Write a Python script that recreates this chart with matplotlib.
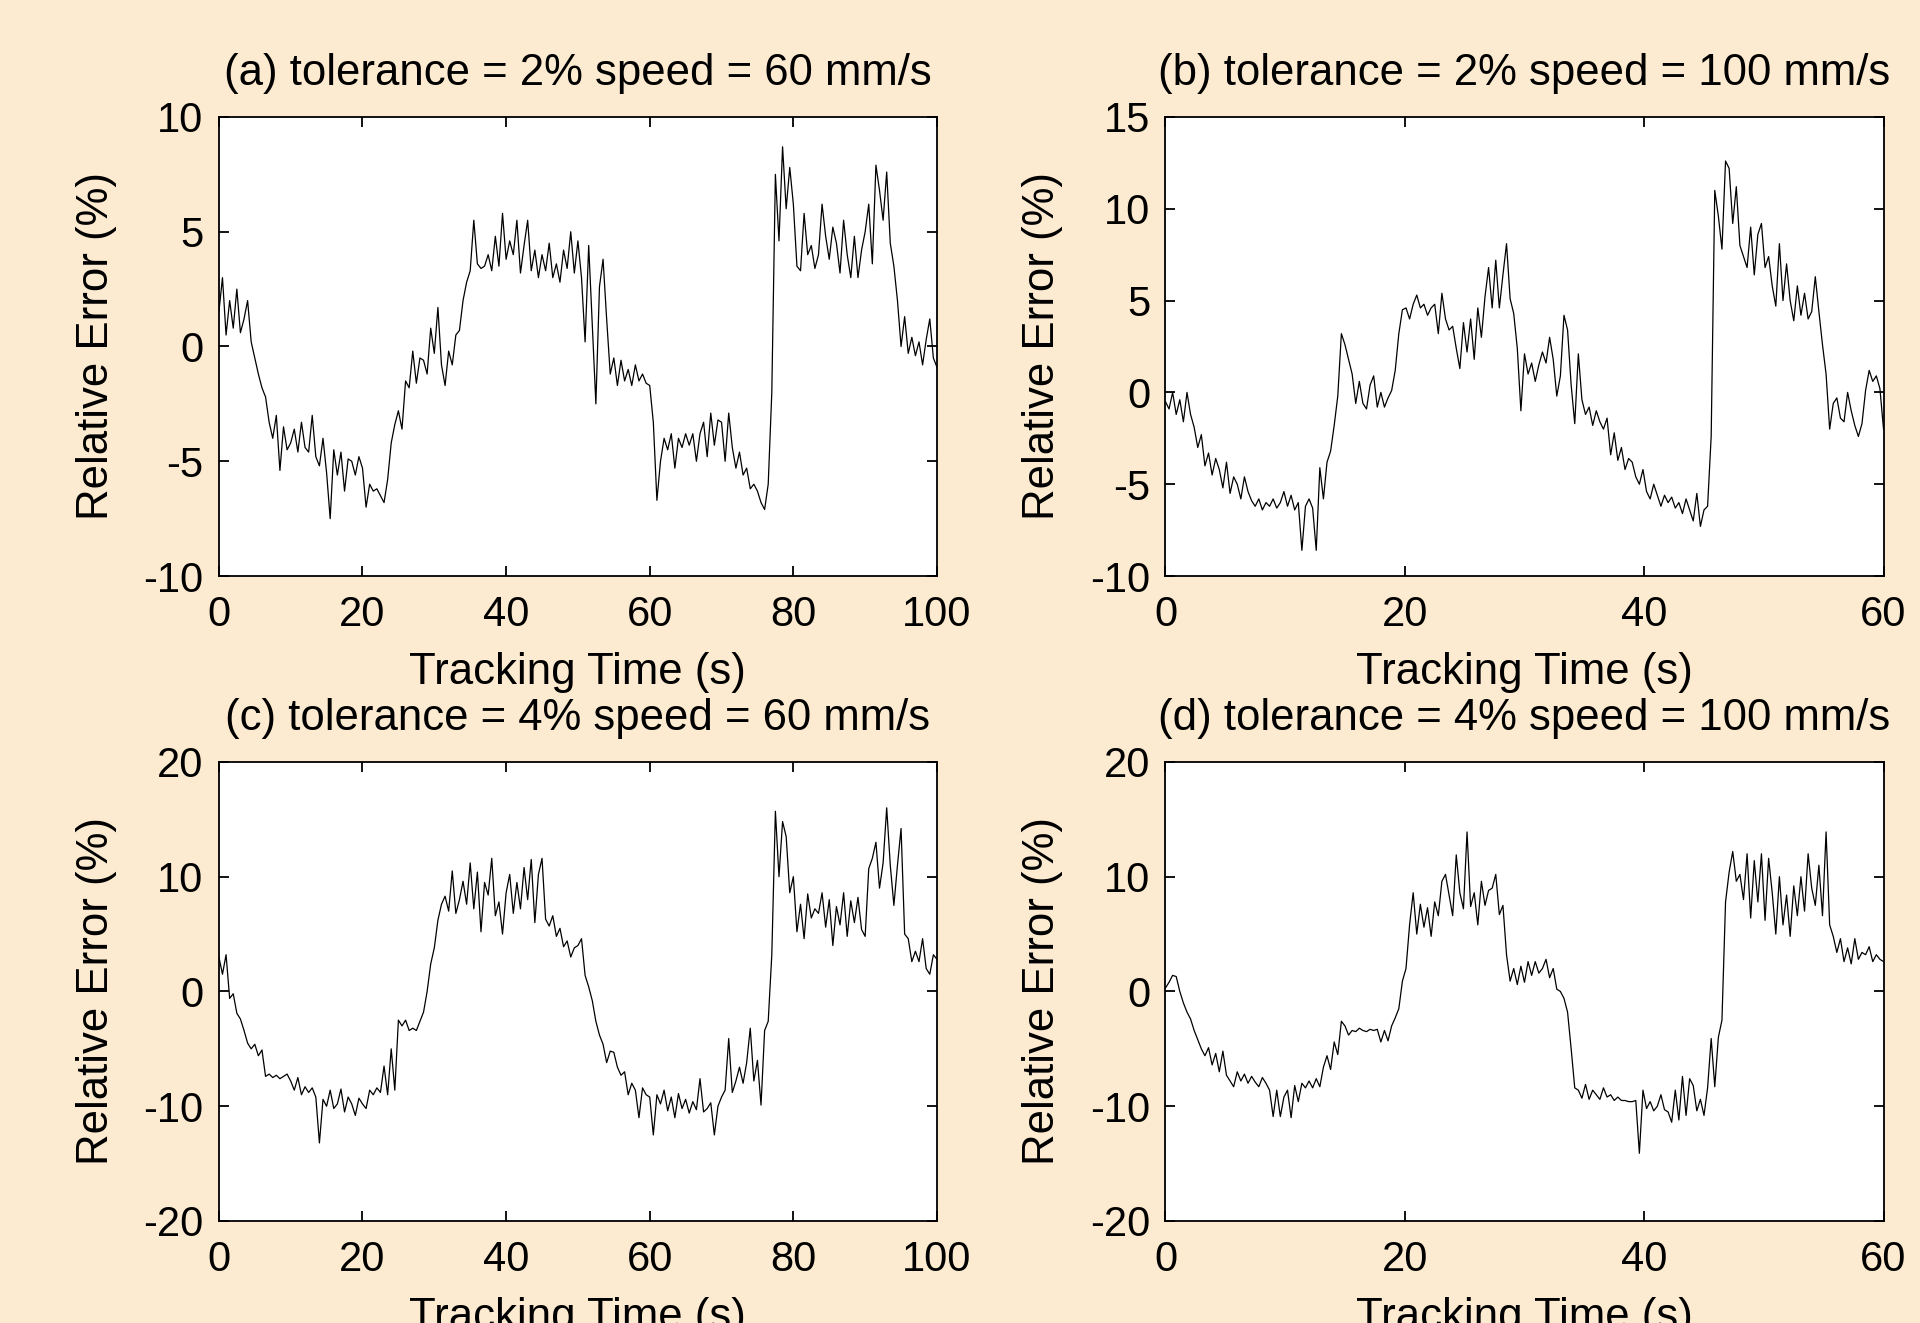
import numpy as np
import matplotlib
matplotlib.use("Agg")
import matplotlib.pyplot as plt

plt.rcParams['font.family'] = ['Liberation Sans', 'DejaVu Sans']
plt.rcParams['axes.unicode_minus'] = False

# ---------------- data ----------------
# panels (a) and (c): 0..100 s, sampled every 0.5 s
time_100 = np.arange(0, 100.0001, 0.5)
# panels (b) and (d): 0..60 s, sampled every 0.3 s
time_60 = np.linspace(0, 60, 201)

err_a = [
    1.5, 3.0, 0.5, 2.0, 0.8, 2.5, 0.6, 1.2, 2.0, 0.2,
    -0.5, -1.2, -1.8, -2.2, -3.3, -4.0, -3.0, -5.4, -3.5, -4.5,
    -4.2, -3.6, -4.6, -3.3, -4.4, -4.6, -3.0, -4.8, -5.2, -4.0,
    -5.5, -7.5, -4.5, -5.6, -4.6, -6.3, -4.9, -5.0, -5.6, -4.8,
    -5.3, -7.0, -6.0, -6.3, -6.2, -6.5, -6.8, -5.8, -4.2, -3.4,
    -2.8, -3.6, -1.5, -1.8, -0.2, -1.6, -0.5, -0.6, -1.2, 0.8,
    -0.3, 1.7, -0.8, -1.7, -0.2, -0.8, 0.5, 0.7, 2.0, 2.8,
    3.3, 5.5, 3.6, 3.4, 3.5, 4.0, 3.3, 4.8, 3.5, 5.8,
    3.8, 4.6, 4.0, 5.5, 3.2, 4.4, 5.5, 3.3, 4.2, 3.0,
    4.0, 3.3, 4.5, 3.0, 3.6, 2.8, 4.2, 3.4, 5.0, 3.2,
    4.6, 3.0, 0.2, 4.4, 1.0, -2.5, 2.6, 3.8, 1.2, -1.2,
    -0.5, -1.7, -0.6, -1.5, -1.0, -1.7, -0.8, -1.5, -1.2, -1.6,
    -1.7, -3.3, -6.7, -5.0, -4.0, -4.5, -3.8, -5.3, -4.0, -4.4,
    -3.8, -4.3, -3.8, -5.0, -3.8, -3.3, -4.8, -2.9, -4.3, -3.2,
    -3.3, -5.0, -2.9, -4.4, -5.3, -4.6, -5.6, -5.3, -6.2, -6.0,
    -6.3, -6.8, -7.1, -6.0, -2.0, 7.5, 4.6, 8.7, 6.0, 7.8,
    6.2, 3.5, 3.3, 5.8, 4.0, 4.4, 3.4, 4.0, 6.2, 4.8,
    3.8, 5.2, 4.5, 3.2, 5.5, 4.0, 3.0, 4.8, 3.0, 4.2,
    5.0, 6.2, 3.6, 7.9, 6.8, 5.5, 7.6, 4.5, 3.5, 2.0,
    0.0, 1.3, -0.3, 0.4, -0.4, 0.2, -0.8, 0.3, 1.2, -0.5,
    -0.9,
]

err_b = [
    -0.5, -0.9, 0.0, -1.2, -0.4, -1.6, 0.0, -1.2, -1.9, -3.0,
    -2.3, -4.0, -3.3, -4.5, -3.6, -4.2, -5.2, -3.8, -5.5, -4.6,
    -5.0, -5.8, -4.6, -5.4, -5.9, -6.2, -5.8, -6.4, -6.0, -6.2,
    -5.8, -6.3, -6.0, -5.4, -6.2, -5.6, -6.4, -6.0, -8.6, -6.2,
    -5.8, -6.3, -8.6, -4.1, -5.8, -3.8, -3.2, -1.8, -0.2, 3.2,
    2.6, 1.8, 1.0, -0.6, 0.6, -0.6, -0.9, 0.4, 0.9, -0.8,
    0.0, -0.8, -0.3, 0.1, 1.2, 3.2, 4.5, 4.6, 4.0, 4.8,
    5.3, 4.6, 4.8, 4.2, 4.6, 4.8, 3.2, 5.4, 4.0, 3.4,
    3.6, 2.4, 1.3, 3.8, 2.2, 4.0, 1.8, 4.6, 3.0, 5.2,
    6.8, 4.6, 7.2, 4.6, 6.4, 8.1, 5.1, 4.3, 2.4, -1.0,
    2.1, 1.0, 1.6, 0.6, 1.5, 2.2, 1.6, 3.0, 1.8, -0.2,
    0.9, 4.2, 3.4, 0.4, -1.7, 2.1, -0.4, -1.2, -0.8, -1.8,
    -1.0, -1.6, -2.0, -1.4, -3.4, -2.2, -3.7, -3.0, -4.2, -3.6,
    -3.8, -4.6, -5.0, -4.2, -5.4, -5.8, -5.0, -5.6, -6.2, -5.6,
    -6.0, -5.7, -6.3, -6.0, -6.6, -5.8, -6.4, -7.0, -5.5, -7.3,
    -6.4, -6.2, -2.4, 11.0, 9.6, 7.8, 12.6, 12.2, 9.2, 11.2,
    8.0, 7.4, 6.8, 9.0, 6.4, 8.6, 9.2, 6.8, 7.4, 5.8,
    4.7, 8.1, 5.0, 7.0, 5.0, 3.9, 5.8, 4.2, 5.4, 4.0,
    4.4, 6.3, 4.4, 2.6, 1.0, -2.0, -0.6, -0.3, -1.4, -1.6,
    0.0, -1.0, -1.8, -2.4, -1.7, 0.1, 1.2, 0.6, 0.9, 0.2,
    -2.0,
]

err_c = [
    3.0, 1.5, 3.2, -0.6, -0.2, -1.9, -2.4, -3.4, -4.5, -5.0,
    -4.6, -5.6, -5.1, -7.4, -7.2, -7.5, -7.3, -7.6, -7.4, -7.2,
    -7.8, -8.6, -7.5, -9.0, -8.3, -8.8, -8.4, -9.2, -13.2, -9.4,
    -10.0, -8.6, -10.2, -9.8, -8.5, -10.5, -9.2, -9.8, -10.8, -9.3,
    -9.8, -10.2, -8.6, -9.0, -8.4, -8.8, -6.5, -9.0, -5.0, -8.6,
    -2.5, -3.0, -2.5, -3.4, -3.2, -3.4, -2.6, -1.8, 0.0, 2.4,
    3.8, 6.2, 7.6, 8.3, 7.0, 10.5, 6.8, 8.0, 9.6, 7.6,
    11.2, 7.2, 10.4, 5.2, 9.5, 8.4, 11.6, 6.6, 7.8, 5.0,
    8.6, 10.2, 6.8, 9.5, 7.2, 10.8, 8.0, 11.5, 6.0, 10.2,
    11.6, 6.3, 5.7, 6.6, 4.8, 5.5, 3.9, 4.4, 3.0, 3.8,
    4.0, 4.6, 1.4, 0.4, -0.8, -2.6, -3.8, -4.6, -6.2, -5.2,
    -5.3, -6.6, -7.3, -7.0, -9.0, -8.0, -8.6, -11.0, -8.4, -9.0,
    -9.2, -12.5, -9.0, -9.8, -8.6, -10.4, -9.2, -11.0, -8.9, -10.2,
    -9.4, -10.6, -9.6, -10.3, -7.6, -10.5, -10.2, -9.7, -12.5, -10.0,
    -9.2, -8.6, -4.1, -8.8, -7.8, -6.6, -8.0, -6.2, -3.2, -7.8,
    -6.0, -9.9, -3.4, -2.6, 3.2, 15.7, 10.0, 14.8, 13.5, 8.6,
    10.0, 5.2, 7.6, 4.6, 8.5, 6.4, 7.2, 6.8, 8.6, 5.6,
    8.0, 4.0, 7.4, 5.8, 8.6, 4.8, 7.9, 6.0, 8.2, 5.4,
    4.8, 10.7, 11.6, 13.0, 9.0, 11.2, 16.0, 11.0, 7.5, 11.0,
    14.2, 5.0, 4.6, 2.6, 3.5, 2.6, 4.6, 2.0, 1.5, 3.2,
    2.8,
]

err_d = [
    0.3, 0.8, 1.4, 1.3, 0.0, -1.0, -1.8, -2.4, -3.4, -4.2,
    -5.0, -5.6, -4.9, -6.4, -5.4, -7.0, -5.2, -7.3, -7.8, -8.3,
    -7.0, -7.8, -7.2, -8.0, -7.4, -7.9, -8.3, -7.5, -8.0, -8.6,
    -10.9, -8.6, -10.9, -9.2, -8.6, -11.0, -8.2, -9.6, -8.0, -8.4,
    -7.8, -8.4, -7.6, -8.3, -6.6, -5.6, -6.8, -4.4, -5.5, -2.6,
    -3.0, -3.8, -3.4, -3.5, -3.2, -3.4, -3.5, -3.3, -3.4, -3.3,
    -4.4, -3.4, -4.3, -3.0, -2.3, -1.5, 0.9, 2.0, 5.8, 8.6,
    5.0, 7.6, 5.6, 7.3, 4.8, 7.8, 6.6, 9.6, 10.2, 8.4,
    6.6, 11.9, 8.6, 7.2, 13.9, 7.4, 8.6, 5.8, 9.6, 7.5,
    8.8, 9.0, 10.2, 6.7, 7.5, 3.2, 0.9, 2.0, 0.6, 2.2,
    0.8, 2.6, 1.4, 2.6, 1.6, 2.0, 2.8, 1.2, 2.0, 0.2,
    0.0, -0.6, -1.8, -5.0, -8.4, -8.6, -9.3, -8.1, -9.4, -8.6,
    -9.0, -9.4, -8.4, -9.2, -9.0, -9.5, -9.2, -9.5, -9.5, -9.6,
    -9.6, -9.5, -14.1, -8.6, -10.2, -9.6, -10.4, -10.0, -9.0, -10.3,
    -10.5, -11.4, -8.6, -11.2, -7.4, -10.8, -7.6, -8.2, -10.4, -9.4,
    -10.8, -8.4, -4.1, -8.3, -4.0, -2.5, 7.8, 10.4, 12.2, 9.6,
    10.2, 8.0, 12.0, 6.4, 11.4, 7.8, 12.0, 6.2, 11.6, 8.6,
    5.0, 10.0, 5.8, 8.4, 4.8, 9.2, 6.6, 10.0, 7.0, 12.0,
    9.0, 7.5, 11.0, 6.6, 13.9, 5.8, 4.8, 3.4, 4.6, 2.6,
    3.8, 2.4, 4.6, 2.8, 3.4, 3.2, 3.9, 2.6, 3.2, 2.8,
    2.6,
]

titles = [
    "(a) tolerance = 2% speed = 60 mm/s",
    "(b) tolerance = 2% speed = 100 mm/s",
    "(c) tolerance = 4% speed = 60 mm/s",
    "(d) tolerance = 4% speed = 100 mm/s",
]
xticks_100 = [0, 20, 40, 60, 80, 100]
xticks_60 = [0, 20, 40, 60]
yticks_a = [-10, -5, 0, 5, 10]
yticks_b = [-10, -5, 0, 5, 10, 15]
yticks_cd = [-20, -10, 0, 10, 20]

panels = [
    (time_100, err_a, (0, 100), xticks_100, (-10, 10), yticks_a),
    (time_60, err_b, (0, 60), xticks_60, (-10, 15), yticks_b),
    (time_100, err_c, (0, 100), xticks_100, (-20, 20), yticks_cd),
    (time_60, err_d, (0, 60), xticks_60, (-20, 20), yticks_cd),
]

# ---------------- figure ----------------
bg = '#FDEBD1'
fig = plt.figure(figsize=(19.2, 13.23), dpi=100, facecolor=bg)

lefts = [0.114, 0.607]
width = 0.374
bottoms = [0.5646, 0.0771]
height = 0.347

for i, (t, y, xl, xt, yl, yt) in enumerate(panels):
    r, c = divmod(i, 2)
    ax = fig.add_axes([lefts[c], bottoms[r], width, height])
    ax.set_facecolor('white')
    ax.plot(t, y, color='black', linewidth=0.9)
    ax.set_xlim(*xl)
    ax.set_ylim(*yl)
    ax.set_xticks(xt)
    ax.set_yticks(yt)
    ax.tick_params(direction='in', length=7, width=1.3, top=True, right=True,
                   labelsize=30, colors='black')
    ax.tick_params(axis='x', pad=14)
    ax.tick_params(axis='y', pad=11)
    for s in ax.spines.values():
        s.set_linewidth(1.3)
        s.set_color('black')
    ax.set_title(titles[i], fontsize=31.5, pad=23)
    ax.set_xlabel("Tracking Time (s)", fontsize=31.5, labelpad=12)
    ax.set_ylabel("Relative Error (%)", fontsize=31.5)
    ax.yaxis.set_label_coords(-0.142, 0.5)

fig.savefig("out.png", dpi=100, facecolor=bg)
